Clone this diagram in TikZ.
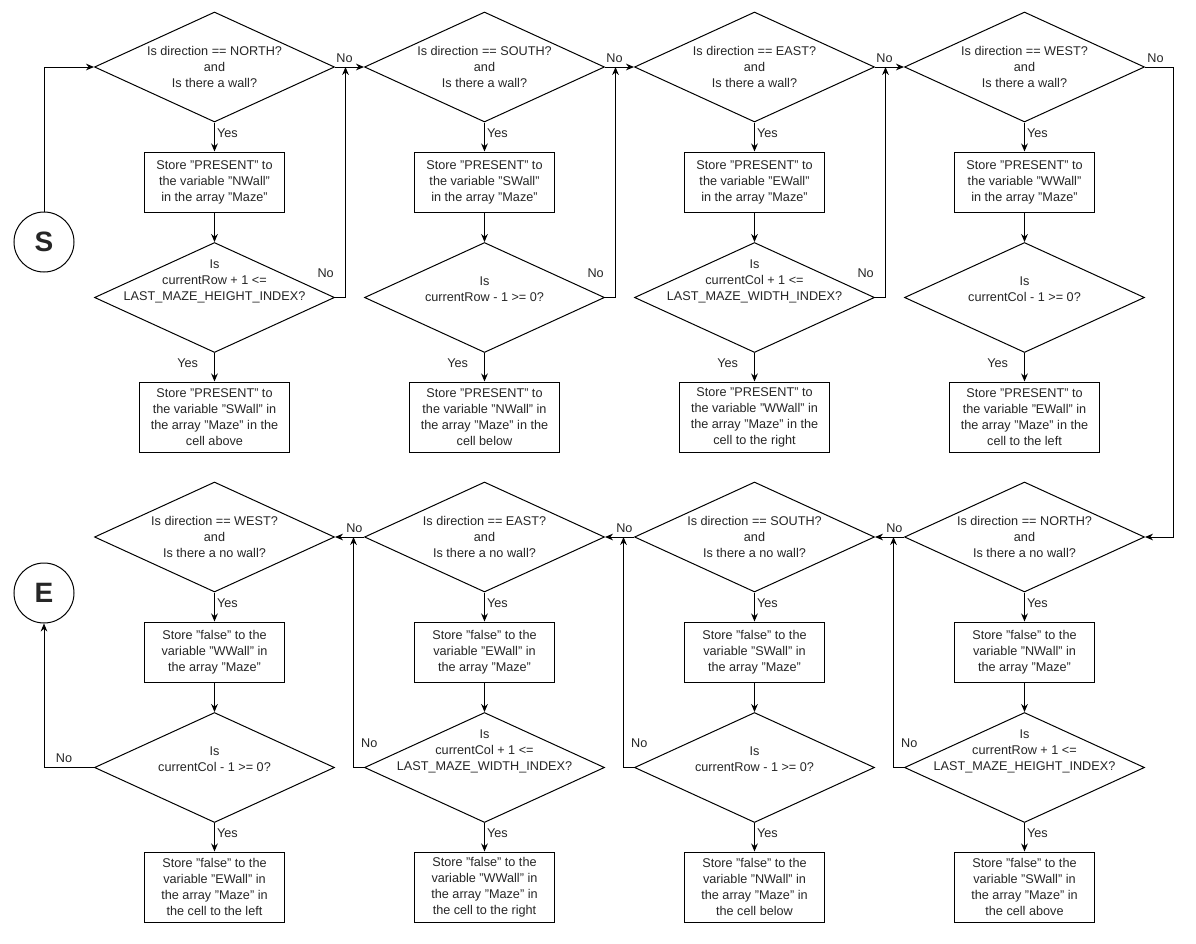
\documentclass[tikz,border=0pt]{standalone}
\usepackage{fontspec}
\setmainfont{Liberation Sans}
\usetikzlibrary{shapes.geometric,arrows.meta,calc}

\begin{document}
\begin{tikzpicture}[x=0.75pt,y=-0.75pt,line width=0.75pt,
	font=\fontsize{9.5}{12}\selectfont, text=black!85,
	diam/.style={draw, diamond, minimum width=180pt, minimum height=82.5pt, inner sep=0pt},
	dtext/.style={align=center, inner sep=0pt},
	process/.style={draw, rectangle, minimum width=105pt, minimum height=45pt, inner sep=0pt, align=center},
	tall/.style={minimum height=52.5pt},
	wide/.style={minimum width=112.5pt},
	terminal/.style={draw, circle, minimum size=45pt, inner sep=0pt, font=\fontsize{21}{25}\selectfont\bfseries},
	flow/.style={-{Stealth[length=6pt,width=5pt]}},
	yesr/.style={pos=0.37, anchor=west, inner sep=1.5pt},
	yesl/.style={pos=0.37, anchor=east, inner sep=0pt, xshift=-12pt},
	nolbl/.style={pos=0.33, anchor=south, inner sep=0pt, yshift=3pt}]
	\pgfmathsetmacro\XA{214.5}
	\pgfmathsetmacro\XB{\XA + 270}
	\pgfmathsetmacro\XC{\XA + 540}
	\pgfmathsetmacro\XD{\XA + 810}
	\pgfmathsetmacro\YA{67}
	\pgfmathsetmacro\YB{182}
	\pgfmathsetmacro\YC{297.5}
	\pgfmathsetmacro\YD{417}
	\pgfmathsetmacro\YE{\YA + 470}
	\pgfmathsetmacro\YF{\YB + 470}
	\pgfmathsetmacro\YG{\YC + 470}
	\pgfmathsetmacro\YH{\YD + 470}
	
	\fill[white] (0,0) rectangle (1196,943);
	\useasboundingbox (0,0) rectangle (1196,943);
	
	\node[terminal] (start) at (44,242) {S};
	\node[terminal] (stop) at (44,593) {E};
	
	% top row: store the walls
	\node[diam, label={[dtext]center:{Is direction == NORTH?\\and\\Is there a wall?}}] (askN) at (\XA,\YA) {};
	\node[process] (setN) at (\XA,\YB) {Store "PRESENT" to\\the variable "NWall"\\in the array "Maze"};
	\node[diam, label={[dtext,yshift=12pt]center:{Is\\currentRow + 1 <=\\LAST\_MAZE\_HEIGHT\_INDEX?}}] (limN) at (\XA,\YC) {};
	\node[process, tall, wide] (adjN) at (\XA,\YD) {Store "PRESENT" to\\the variable "SWall" in\\the array "Maze" in the\\cell above};
	
	\node[diam, label={[dtext]center:{Is direction == SOUTH?\\and\\Is there a wall?}}] (askS) at (\XB,\YA) {};
	\node[process] (setS) at (\XB,\YB) {Store "PRESENT" to\\the variable "SWall"\\in the array "Maze"};
	\node[diam, label={[dtext,yshift=6pt]center:{Is\\currentRow - 1 >= 0?}}] (limS) at (\XB,\YC) {};
	\node[process, tall, wide] (adjS) at (\XB,\YD) {Store "PRESENT" to\\the variable "NWall" in\\the array "Maze" in the\\cell below};
	
	\node[diam, label={[dtext]center:{Is direction == EAST?\\and\\Is there a wall?}}] (askE) at (\XC,\YA) {};
	\node[process] (setE) at (\XC,\YB) {Store "PRESENT" to\\the variable "EWall"\\in the array "Maze"};
	\node[diam, label={[dtext,yshift=12pt]center:{Is\\currentCol + 1 <=\\LAST\_MAZE\_WIDTH\_INDEX?}}] (limE) at (\XC,\YC) {};
	\node[process, tall, wide] (adjE) at (\XC,\YD) {Store "PRESENT" to\\the variable "WWall" in\\the array "Maze" in the\\cell to the right};
	
	\node[diam, label={[dtext]center:{Is direction == WEST?\\and\\Is there a wall?}}] (askW) at (\XD,\YA) {};
	\node[process] (setW) at (\XD,\YB) {Store "PRESENT" to\\the variable "WWall"\\in the array "Maze"};
	\node[diam, label={[dtext,yshift=6pt]center:{Is\\currentCol - 1 >= 0?}}] (limW) at (\XD,\YC) {};
	\node[process, tall, wide] (adjW) at (\XD,\YD) {Store "PRESENT" to\\the variable "EWall" in\\the array "Maze" in the\\cell to the left};
	
	% bottom row: clear the walls, right to left
	\node[diam, label={[dtext]center:{Is direction == NORTH?\\and\\Is there a no wall?}}] (askNf) at (\XD,\YE) {};
	\node[process] (setNf) at (\XD,\YF) {Store "false" to the\\variable "NWall" in\\the array "Maze"};
	\node[diam, label={[dtext,yshift=12pt]center:{Is\\currentRow + 1 <=\\LAST\_MAZE\_HEIGHT\_INDEX?}}] (limNf) at (\XD,\YG) {};
	\node[process, tall] (adjNf) at (\XD,\YH) {Store "false" to the\\variable "SWall" in\\the array "Maze" in\\the cell above};
	
	\node[diam, label={[dtext]center:{Is direction == SOUTH?\\and\\Is there a no wall?}}] (askSf) at (\XC,\YE) {};
	\node[process] (setSf) at (\XC,\YF) {Store "false" to the\\variable "SWall" in\\the array "Maze"};
	\node[diam, label={[dtext,yshift=6pt]center:{Is\\currentRow - 1 >= 0?}}] (limSf) at (\XC,\YG) {};
	\node[process, tall] (adjSf) at (\XC,\YH) {Store "false" to the\\variable "NWall" in\\the array "Maze" in\\the cell below};
	
	\node[diam, label={[dtext]center:{Is direction == EAST?\\and\\Is there a no wall?}}] (askEf) at (\XB,\YE) {};
	\node[process] (setEf) at (\XB,\YF) {Store "false" to the\\variable "EWall" in\\the array "Maze"};
	\node[diam, label={[dtext,yshift=12pt]center:{Is\\currentCol + 1 <=\\LAST\_MAZE\_WIDTH\_INDEX?}}] (limEf) at (\XB,\YG) {};
	\node[process, tall] (adjEf) at (\XB,\YH) {Store "false" to the\\variable "WWall" in\\the array "Maze" in\\the cell to the right};
	
	\node[diam, label={[dtext]center:{Is direction == WEST?\\and\\Is there a no wall?}}] (askWf) at (\XA,\YE) {};
	\node[process] (setWf) at (\XA,\YF) {Store "false" to the\\variable "WWall" in\\the array "Maze"};
	\node[diam, label={[dtext,yshift=6pt]center:{Is\\currentCol - 1 >= 0?}}] (limWf) at (\XA,\YG) {};
	\node[process, tall] (adjWf) at (\XA,\YH) {Store "false" to the\\variable "EWall" in\\the array "Maze" in\\the cell to the left};
	
	\coordinate (jN) at ($(askN.east)+(10.5,0)$);
	\coordinate (jS) at ($(askS.east)+(10.5,0)$);
	\coordinate (jE) at ($(askE.east)+(10.5,0)$);
	\coordinate (turn) at ($(askW.east)+(28.5,0)$);
	\coordinate (jNf) at ($(askNf.west)+(-10.5,0)$);
	\coordinate (jSf) at ($(askSf.west)+(-10.5,0)$);
	\coordinate (jEf) at ($(askEf.west)+(-10.5,0)$);
	
	\draw[flow] (start.north) |- (askN.west);
	
	% top row connectors
	\draw[flow] (askN.south) -- node[yesr]{Yes} (setN.north);
	\draw[flow] (setN.south) -- (limN.north);
	\draw[flow] (limN.south) -- node[yesl]{Yes} (adjN.north);
	\draw[flow] (askN.east) -- node[nolbl]{No} (askS.west);
	\draw[flow] (limN.east) -| node[at start, xshift=-7pt, yshift=18pt]{No} (jN);
	
	\draw[flow] (askS.south) -- node[yesr]{Yes} (setS.north);
	\draw[flow] (setS.south) -- (limS.north);
	\draw[flow] (limS.south) -- node[yesl]{Yes} (adjS.north);
	\draw[flow] (askS.east) -- node[nolbl]{No} (askE.west);
	\draw[flow] (limS.east) -| node[at start, xshift=-7pt, yshift=18pt]{No} (jS);
	
	\draw[flow] (askE.south) -- node[yesr]{Yes} (setE.north);
	\draw[flow] (setE.south) -- (limE.north);
	\draw[flow] (limE.south) -- node[yesl]{Yes} (adjE.north);
	\draw[flow] (askE.east) -- node[nolbl]{No} (askW.west);
	\draw[flow] (limE.east) -| node[at start, xshift=-7pt, yshift=18pt]{No} (jE);
	
	\draw[flow] (askW.south) -- node[yesr]{Yes} (setW.north);
	\draw[flow] (setW.south) -- (limW.north);
	\draw[flow] (limW.south) -- node[yesl]{Yes} (adjW.north);
	\draw[flow] (askW.east) -- node[nolbl, pos=0.37]{No} (turn) |- (askNf.east);
	
	% bottom row connectors
	\draw[flow] (askNf.south) -- node[yesr]{Yes} (setNf.north);
	\draw[flow] (setNf.south) -- (limNf.north);
	\draw[flow] (limNf.south) -- node[yesr]{Yes} (adjNf.north);
	\draw[flow] (askNf.west) -- node[nolbl]{No} (askSf.east);
	\draw[flow] (limNf.west) -| node[at start, xshift=4pt, yshift=18pt]{No} (jNf);
	
	\draw[flow] (askSf.south) -- node[yesr]{Yes} (setSf.north);
	\draw[flow] (setSf.south) -- (limSf.north);
	\draw[flow] (limSf.south) -- node[yesr]{Yes} (adjSf.north);
	\draw[flow] (askSf.west) -- node[nolbl]{No} (askEf.east);
	\draw[flow] (limSf.west) -| node[at start, xshift=4pt, yshift=18pt]{No} (jSf);
	
	\draw[flow] (askEf.south) -- node[yesr]{Yes} (setEf.north);
	\draw[flow] (setEf.south) -- (limEf.north);
	\draw[flow] (limEf.south) -- node[yesr]{Yes} (adjEf.north);
	\draw[flow] (askEf.west) -- node[nolbl]{No} (askWf.east);
	\draw[flow] (limEf.west) -| node[at start, xshift=4pt, yshift=18pt]{No} (jEf);
	
	\draw[flow] (askWf.south) -- node[yesr]{Yes} (setWf.north);
	\draw[flow] (setWf.south) -- (limWf.north);
	\draw[flow] (limWf.south) -- node[yesr]{Yes} (adjWf.north);
	\draw[flow] (limWf.west) -| node[nolbl, pos=0.3]{No} (stop.south);
\end{tikzpicture}
\end{document}
